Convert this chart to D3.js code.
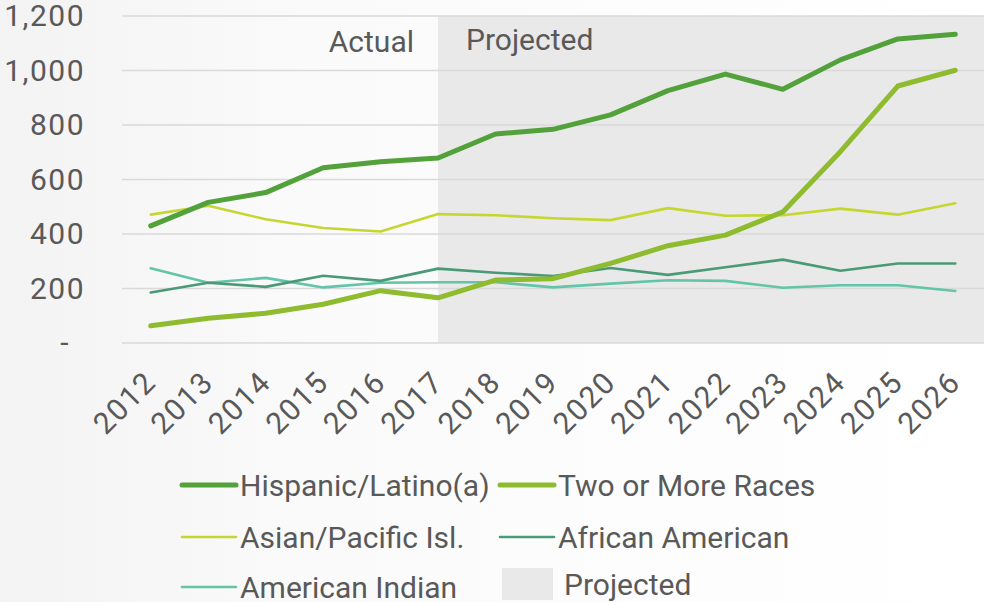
<!DOCTYPE html>
<html>
<head>
<meta charset="utf-8">
<script src="https://cdn.jsdelivr.net/npm/d3@7"></script>
<style>
  body { margin: 0; background: #fff; }
  svg text { font-family: Roboto, "Liberation Sans", sans-serif; fill: #595959; }
</style>
</head>
<body>
<script>
const years = ['2012','2013','2014','2015','2016','2017','2018','2019','2020','2021','2022','2023','2024','2025','2026'];
const yTicks = [0, 200, 400, 600, 800, 1000, 1200];

const hispanic   = [430, 516, 552, 643, 665, 679, 767, 784, 837, 926, 987, 931, 1039, 1116, 1133];
const twoOrMore  = [63, 91, 109, 142, 192, 166, 231, 236, 292, 357, 396, 481, 702, 943, 1001];
const asianPac   = [471, 504, 454, 422, 409, 473, 469, 458, 451, 495, 467, 469, 493, 471, 513];
const africanAm  = [185, 221, 206, 247, 228, 273, 258, 246, 275, 250, 278, 306, 265, 292, 292];
const amIndian   = [274, 221, 239, 204, 221, 223, 223, 204, 218, 230, 228, 203, 212, 212, 191];

const seriesNames = ['Hispanic/Latino(a)', 'Two or More Races', 'Asian/Pacific Isl.', 'African American', 'American Indian'];
const seriesColors = ['#52a13a', '#8fbb2f', '#c6d631', '#4a9a78', '#62c5a8'];
const seriesWidths = [5, 5, 2.6, 2.6, 2.6];
const seriesValues = [hispanic, twoOrMore, asianPac, africanAm, amIndian];

const projectedFrom = '2017';

const W = 984, H = 602;
const plot = {left: 122, right: 984, top: 16, bottom: 343};
const fontSize = 30;

const svg = d3.select('body').append('svg')
  .attr('width', W)
  .attr('height', H);

// faint background wash on the left
const defs = svg.append('defs');
const grad = defs.append('linearGradient').attr('id', 'bgwash')
  .attr('x1', 0).attr('x2', 1).attr('y1', 0).attr('y2', 0);
grad.append('stop').attr('offset', 0).attr('stop-color', '#f3f3f3');
grad.append('stop').attr('offset', 0.3).attr('stop-color', '#fafafa');
grad.append('stop').attr('offset', 1).attr('stop-color', '#ffffff');
svg.append('rect').attr('width', W).attr('height', H).attr('fill', 'url(#bgwash)');

const x = d3.scaleBand().domain(years).range([plot.left, plot.right]).padding(0);
const xc = d => x(d) + x.bandwidth() / 2;
const y = d3.scaleLinear().domain([0, 1200]).range([plot.bottom, plot.top]);

// projected shading
svg.append('rect')
  .attr('x', xc(projectedFrom))
  .attr('y', y(1200))
  .attr('width', plot.right - xc(projectedFrom))
  .attr('height', y(0) - y(1200))
  .attr('fill', '#e9e9e9');

// gridlines
svg.append('g')
  .selectAll('line')
  .data(yTicks)
  .enter()
  .append('line')
  .attr('x1', plot.left)
  .attr('x2', plot.right)
  .attr('y1', d => y(d))
  .attr('y2', d => y(d))
  .attr('stroke', '#d9d9d9')
  .attr('stroke-width', 1.5);

// y axis labels
const yAxis = d3.axisLeft(y)
  .tickValues(yTicks)
  .tickSize(0)
  .tickPadding(0)
  .tickFormat(d => d === 0 ? '-' : d3.format(',')(d));
const yg = svg.append('g')
  .attr('transform', 'translate(85,0)')
  .call(yAxis);
yg.select('.domain').remove();
yg.selectAll('text')
  .attr('font-size', fontSize)
  .attr('fill', '#595959')
  .style('font-family', 'Roboto, sans-serif')
  .style('letter-spacing', '1.5px')
  .attr('dx', d => d === 0 ? -15 : 0);

// x axis labels
const xAxis = d3.axisBottom(x).tickSize(0).tickPadding(0);
const xg = svg.append('g')
  .attr('transform', 'translate(0,' + plot.bottom + ')')
  .call(xAxis);
xg.select('.domain').remove();
xg.selectAll('text')
  .attr('font-size', fontSize)
  .attr('fill', '#595959')
  .style('font-family', 'Roboto, sans-serif')
  .style('letter-spacing', '1.5px')
  .attr('text-anchor', 'end')
  .attr('y', 0)
  .attr('dy', 0)
  .attr('transform', 'translate(7,41) rotate(-45)');

// section labels
svg.append('text')
  .attr('x', 414).attr('y', 52)
  .attr('text-anchor', 'end')
  .attr('font-size', fontSize)
  .text('Actual');
svg.append('text')
  .attr('x', 466).attr('y', 50)
  .attr('font-size', fontSize)
  .text('Projected');

// lines
const line = d3.line()
  .x((d, i) => xc(years[i]))
  .y(d => y(d));

svg.append('g')
  .selectAll('path')
  .data(seriesValues.map((v, i) => ({v: v, i: i})).reverse())
  .enter()
  .append('path')
  .attr('d', d => line(d.v))
  .attr('fill', 'none')
  .attr('stroke', d => seriesColors[d.i])
  .attr('stroke-width', d => seriesWidths[d.i])
  .attr('stroke-linejoin', 'round')
  .attr('stroke-linecap', 'round');

// legend
const legendPos = [[182, 485], [500, 485], [182, 537], [500, 537], [182, 587]];
const lg = svg.append('g').attr('class', 'legend');
seriesNames.forEach((name, i) => {
  const [lx, ly] = legendPos[i];
  lg.append('line')
    .attr('x1', lx).attr('x2', lx + 54)
    .attr('y1', ly).attr('y2', ly)
    .attr('stroke', seriesColors[i])
    .attr('stroke-width', seriesWidths[i])
    .attr('stroke-linecap', 'round');
  lg.append('text')
    .attr('x', lx + 58).attr('y', ly)
    .attr('dy', '0.35em')
    .attr('font-size', fontSize)
    .text(name);
});
lg.append('rect')
  .attr('x', 502).attr('y', 568)
  .attr('width', 51).attr('height', 32)
  .attr('fill', '#e9e9e9');
lg.append('text')
  .attr('x', 564).attr('y', 584)
  .attr('dy', '0.35em')
  .attr('font-size', fontSize)
  .text('Projected');
</script>
</body>
</html>
